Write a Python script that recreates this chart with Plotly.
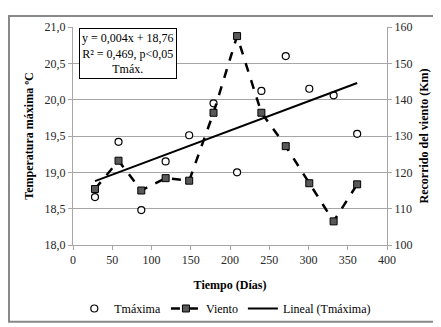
import numpy as np
import plotly.graph_objects as go

dias = [28, 58, 87, 118, 148, 179, 209, 240, 271, 301, 332, 362]
tmax = [18.66, 19.42, 18.48, 19.15, 19.51, 19.95, 19.00, 20.12, 20.60, 20.15, 20.06, 19.53]
viento = [115.4, 123.2, 115.0, 118.4, 117.7, 136.4, 157.5, 136.4, 127.2, 117.0, 106.5, 116.7]

slope, intercept = np.polyfit(dias, tmax, 1)
xfit = [dias[0], dias[-1]]
yfit = [slope * v + intercept for v in xfit]

FONT = "Times New Roman, Liberation Serif, DejaVu Serif, serif"
GRID = "#a6a6a6"
TICKFONT = dict(family=FONT, size=12, color="#262626")
TITLEFONT = dict(family=FONT, size=12, color="black")

fig = go.Figure()
fig.add_trace(go.Scatter(
    x=dias, y=tmax, mode="markers", name="Tmáxima",
    marker=dict(symbol="circle", size=7, color="white", line=dict(color="black", width=1.2)),
))
fig.add_trace(go.Scatter(
    x=dias, y=viento, mode="lines+markers", name="Viento", yaxis="y2",
    line=dict(color="black", width=2.5, dash="dash"),
    marker=dict(symbol="square", size=7, color="#595959", line=dict(color="black", width=1)),
))
fig.add_trace(go.Scatter(
    x=xfit, y=yfit, mode="lines", name="Lineal (Tmáxima)",
    line=dict(color="black", width=2),
))

# plot area in pixels: left 65, right 379, top 12.7, bottom 244.5
pw, ph = 314.0, 231.8
def px_x(p):
    return (p - 65) / pw
def px_y(p):
    return (244.5 - p) / ph

fig.add_shape(type="rect", xref="paper", yref="paper",
              x0=px_x(1), x1=px_x(440), y0=px_y(326), y1=px_y(1),
              line=dict(color="#888888", width=2), layer="below")

fig.add_annotation(
    x=69.5, y=20.64, xref="x", yref="y",
    text="y = 0,004x + 18,76<br>R² = 0,469, p&lt;0,05<br>Tmáx.",
    showarrow=False, bgcolor="white", bordercolor="black", borderwidth=1,
    borderpad=2, font=dict(family=FONT, size=12, color="black"), align="center",
)

fig.update_layout(
    width=441, height=327,
    margin=dict(l=65, r=62, t=13, b=82.5),
    paper_bgcolor="white", plot_bgcolor="white",
    separators=", ",
    font=dict(family=FONT, size=12, color="black"),
    showlegend=True,
    legend=dict(orientation="h", x=0.485, xanchor="center", y=px_y(312), yanchor="middle",
                font=dict(family=FONT, size=12, color="black"), itemwidth=30,
                tracegroupgap=0, bgcolor="rgba(0,0,0,0)"),
    xaxis=dict(
        range=[0, 400], dtick=50, tick0=0, showgrid=False,
        showline=True, linecolor=GRID, linewidth=1,
        ticks="outside", ticklen=4, tickcolor=GRID, tickfont=TICKFONT,
        zeroline=False,
        title=dict(text="<b>Tiempo (Días)</b>", standoff=14, font=TITLEFONT),
    ),
    yaxis=dict(
        range=[18, 21], dtick=0.5, tick0=18, tickformat=".1f",
        showgrid=True, gridcolor=GRID, gridwidth=1,
        showline=True, linecolor=GRID, linewidth=1,
        ticks="outside", ticklen=4, tickcolor=GRID, tickfont=TICKFONT, zeroline=False,
        title=dict(text="<b>Temperatura máxima ºC</b>", standoff=8, font=TITLEFONT),
    ),
    yaxis2=dict(
        range=[100, 160], dtick=10, tick0=100, overlaying="y", side="right",
        showgrid=False, showline=True, linecolor=GRID, linewidth=1,
        ticks="outside", ticklen=4, tickcolor=GRID, tickfont=TICKFONT, zeroline=False,
        title=dict(text="<b>Recorrido del viento (Km)</b>", standoff=8, font=TITLEFONT),
    ),
)

fig.write_html("out.html")
